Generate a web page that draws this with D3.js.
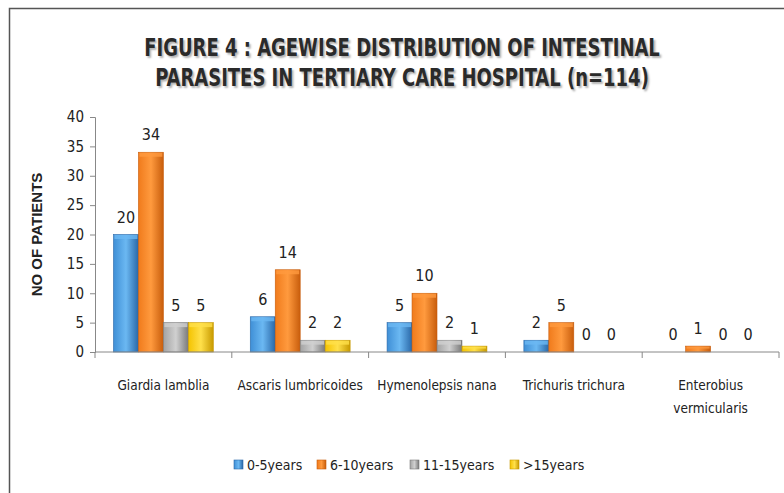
<!DOCTYPE html>
<html>
<head>
<meta charset="utf-8">
<script src="https://cdn.jsdelivr.net/npm/d3@7"></script>
<style>
  body { margin: 0; background: #fff; }
  text { font-family: "DejaVu Sans Condensed", "Liberation Sans Narrow", sans-serif; }
</style>
</head>
<body>
<svg id="chart" width="784" height="493"></svg>
<script>
var parasites = ["Giardia lamblia", "Ascaris lumbricoides", "Hymenolepsis nana", "Trichuris trichura", "Enterobius vermicularis"];
var ageGroups = ["0-5years", "6-10years", "11-15years", ">15years"];
var age0to5 = [20, 6, 5, 2, 0];
var age6to10 = [34, 14, 10, 5, 1];
var age11to15 = [5, 2, 2, 0, 0];
var ageOver15 = [5, 2, 1, 0, 0];
var yTicks = [0, 5, 10, 15, 20, 25, 30, 35, 40];
var titleLines = ["FIGURE 4 : AGEWISE DISTRIBUTION OF INTESTINAL", "PARASITES IN TERTIARY CARE HOSPITAL (n=114)"];

var series = [age0to5, age6to10, age11to15, ageOver15];
var colors = [
  { light: "#6bb8f2", mid: "#3f8fd6", dark: "#2a68a8" },
  { light: "#ff9a3e", mid: "#f07b1c", dark: "#c85d0c" },
  { light: "#d0d0d0", mid: "#a3a3a3", dark: "#7a7a7a" },
  { light: "#ffe04a", mid: "#f4c300", dark: "#c89a00" }
];

var svg = d3.select("#chart");
var margin = { left: 95, right: 5, top: 117, bottom: 141 };
var width = 784 - margin.left - margin.right;
var height = 493 - margin.top - margin.bottom;

// frame
svg.append("path")
  .attr("d", "M9.5,493 V8.5 H784")
  .attr("fill", "none")
  .attr("stroke", "#555")
  .attr("stroke-width", 1.5);

// gradients
var defs = svg.append("defs");
colors.forEach(function (c, i) {
  var g = defs.append("linearGradient").attr("id", "grad" + i)
    .attr("x1", 0).attr("y1", 0).attr("x2", 1).attr("y2", 0);
  g.append("stop").attr("offset", "0%").attr("stop-color", c.mid);
  g.append("stop").attr("offset", "50%").attr("stop-color", c.light);
  g.append("stop").attr("offset", "100%").attr("stop-color", c.dark);
});

// title (stretched a bit vertically to mimic the condensed font)
titleLines.forEach(function (line, i) {
  svg.append("text")
    .attr("transform", "translate(402," + (56 + i * 30) + ") scale(1,1.2)")
    .attr("text-anchor", "middle")
    .attr("font-weight", "bold").attr("font-size", 20)
    .attr("fill", "#2a2a2a")
    .style("text-shadow", "2px 2px 2px rgba(0,0,0,0.3)")
    .text(line);
});

var g = svg.append("g").attr("transform", "translate(" + margin.left + "," + margin.top + ")");

var x0 = d3.scaleBand().domain(parasites).range([0, width]).paddingInner(0.27).paddingOuter(0.135);
var x1 = d3.scaleBand().domain(d3.range(ageGroups.length)).range([0, x0.bandwidth()]);
var y = d3.scaleLinear().domain([0, 40]).range([height, 0]);

// y axis
var yAxis = g.append("g").call(d3.axisLeft(y).tickValues(yTicks).tickSize(5).tickPadding(6));
yAxis.select(".domain").attr("stroke", "#888");
yAxis.selectAll(".tick line").attr("stroke", "#888");
yAxis.selectAll("text").attr("font-size", 15).attr("fill", "#222");

svg.append("text")
  .attr("transform", "translate(42," + (margin.top + height / 2) + ") rotate(-90)")
  .attr("text-anchor", "middle")
  .style("font-family", "'Liberation Sans', Arial, sans-serif")
  .attr("font-weight", "bold").attr("font-size", 15)
  .attr("fill", "#222")
  .text("NO OF PATIENTS");

// bars
var groups = g.selectAll(".grp").data(parasites).enter().append("g")
  .attr("transform", function (d) { return "translate(" + x0(d) + ",0)"; });

groups.each(function (p, pi) {
  var grp = d3.select(this);
  series.forEach(function (s, si) {
    var v = s[pi];
    var bx = x1(si), bw = x1.bandwidth();
    if (v > 0) {
      grp.append("rect")
        .attr("x", bx).attr("y", y(v))
        .attr("width", bw).attr("height", y(0) - y(v))
        .attr("fill", "url(#grad" + si + ")")
        .attr("stroke", colors[si].dark).attr("stroke-width", 0.6);
      var bevel = Math.min(4, (y(0) - y(v)) / 3);
      grp.append("rect")
        .attr("x", bx + 1).attr("y", y(v) + 0.5)
        .attr("width", bw - 2).attr("height", bevel)
        .attr("fill", colors[si].light).attr("opacity", 0.8);
    }
    grp.append("text")
      .attr("x", bx + bw / 2)
      .attr("y", y(v) - 12)
      .attr("text-anchor", "middle")
      .attr("font-size", 16).attr("fill", "#222")
      .text(v);
  });
});

// x axis
var xAxisG = g.append("g").attr("transform", "translate(0," + height + ")");
xAxisG.append("line").attr("x1", 0).attr("x2", width).attr("stroke", "#888");
var edges = parasites.map(function (d) { return x0(d) - x0.step() * x0.paddingInner() / 2; });
edges.push(width);
xAxisG.selectAll(".xt").data(edges).enter().append("line")
  .attr("x1", function (d) { return d; }).attr("x2", function (d) { return d; })
  .attr("y1", 0).attr("y2", 6).attr("stroke", "#888");

var labelLines = [["Giardia lamblia"], ["Ascaris lumbricoides"], ["Hymenolepsis nana"], ["Trichuris trichura"], ["Enterobius", "vermicularis"]];
parasites.forEach(function (p, i) {
  var t = xAxisG.append("text")
    .attr("text-anchor", "middle")
    .attr("font-size", 13.5).attr("fill", "#222");
  labelLines[i].forEach(function (line, li) {
    t.append("tspan")
      .attr("x", x0(p) + x0.bandwidth() / 2)
      .attr("y", 38 + li * 23)
      .text(line);
  });
});

// legend
var legendX = [234, 317, 410, 510];
var legend = svg.append("g").attr("transform", "translate(0,465)");
ageGroups.forEach(function (a, i) {
  legend.append("rect")
    .attr("x", legendX[i]).attr("y", -5)
    .attr("width", 9).attr("height", 9)
    .attr("fill", "url(#grad" + i + ")")
    .attr("stroke", colors[i].dark).attr("stroke-width", 0.6);
  legend.append("text")
    .attr("x", legendX[i] + 13).attr("y", 5)
    .attr("font-size", 14).attr("fill", "#222")
    .text(a);
});
</script>
</body>
</html>
